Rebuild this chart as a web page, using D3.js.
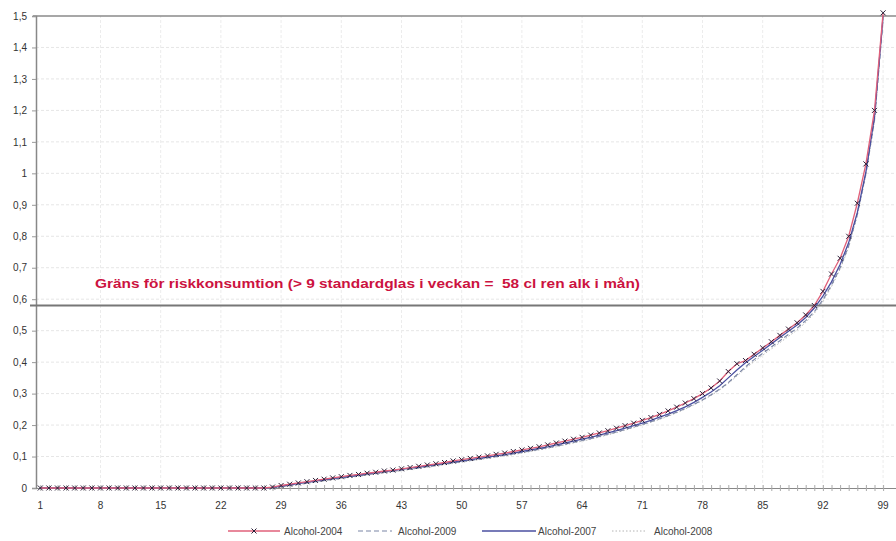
<!DOCTYPE html>
<html><head><meta charset="utf-8">
<script src="https://cdn.jsdelivr.net/npm/d3@7"></script>
<style>
html,body{margin:0;padding:0;background:#fff;}
svg{display:block;font-family:"Liberation Sans",Arial,sans-serif;}
</style></head>
<body><svg id="c" width="896" height="541"></svg>
<script>
// categories 1..99 (percentile rank)
const categories = d3.range(1, 100);
const xTickLabels = [1, 8, 15, 22, 29, 36, 43, 50, 57, 64, 71, 78, 85, 92, 99];
const yTicks = [0, 0.1, 0.2, 0.3, 0.4, 0.5, 0.6, 0.7, 0.8, 0.9, 1, 1.1, 1.2, 1.3, 1.4, 1.5];
const seriesNames = ["Alcohol-2004", "Alcohol-2009", "Alcohol-2007", "Alcohol-2008"];
const threshold = 0.58;
const thresholdLabel = "Gräns för riskkonsumtion (> 9 standardglas i veckan =  58 cl ren alk i mån)";

const zeros27 = [0,0,0,0,0,0,0,0,0,0,0,0,0,0,0,0,0,0,0,0,0,0,0,0,0,0,0];
const alc2004 = zeros27.concat([
 0.003,0.008,0.012,0.016,0.020,0.024,0.028,0.032,0.036,0.040,
 0.043,0.047,0.050,0.054,0.057,0.061,0.065,0.069,0.073,0.077,
 0.081,0.086,0.090,0.094,0.098,0.102,0.107,0.111,0.116,0.121,
 0.126,0.131,0.137,0.143,0.149,0.155,0.161,0.168,0.175,0.182,
 0.190,0.198,0.206,0.215,0.224,0.234,0.245,0.257,0.270,0.284,
 0.300,0.318,0.340,0.370,0.395,0.405,0.425,0.445,0.465,0.485,
 0.505,0.525,0.550,0.580,0.625,0.680,0.730,0.800,0.905,1.030,
 1.200,1.510]);
const alc2009 = zeros27.concat([
 0.000,0.004,0.008,0.012,0.016,0.020,0.024,0.028,0.031,0.035,
 0.039,0.042,0.046,0.050,0.053,0.057,0.060,0.064,0.068,0.072,
 0.076,0.080,0.084,0.088,0.092,0.096,0.100,0.104,0.108,0.113,
 0.118,0.123,0.128,0.133,0.139,0.145,0.151,0.157,0.164,0.171,
 0.178,0.186,0.194,0.202,0.211,0.220,0.230,0.241,0.253,0.266,
 0.280,0.296,0.314,0.335,0.360,0.385,0.408,0.428,0.448,0.468,
 0.488,0.508,0.532,0.560,0.598,0.645,0.700,0.770,0.870,1.000,
 1.170,1.490]);
const alc2007 = zeros27.concat([
 0.002,0.006,0.010,0.014,0.018,0.022,0.026,0.030,0.034,0.037,
 0.041,0.045,0.048,0.052,0.055,0.059,0.063,0.066,0.070,0.074,
 0.078,0.082,0.086,0.090,0.094,0.098,0.102,0.106,0.111,0.116,
 0.121,0.126,0.131,0.137,0.143,0.149,0.155,0.161,0.168,0.175,
 0.182,0.190,0.198,0.206,0.215,0.225,0.235,0.246,0.258,0.272,
 0.288,0.305,0.325,0.350,0.375,0.398,0.418,0.438,0.458,0.478,
 0.498,0.518,0.542,0.572,0.610,0.655,0.710,0.780,0.875,1.005,
 1.180,1.500]);
const alc2008 = zeros27.concat([
 0.000,0.003,0.007,0.011,0.015,0.019,0.023,0.026,0.030,0.034,
 0.037,0.041,0.045,0.048,0.052,0.055,0.059,0.063,0.066,0.070,
 0.074,0.078,0.082,0.086,0.090,0.094,0.098,0.102,0.106,0.111,
 0.116,0.121,0.126,0.131,0.137,0.143,0.149,0.155,0.162,0.169,
 0.176,0.184,0.192,0.200,0.209,0.218,0.228,0.239,0.251,0.264,
 0.278,0.294,0.312,0.332,0.356,0.380,0.402,0.422,0.442,0.462,
 0.482,0.502,0.526,0.555,0.592,0.640,0.695,0.765,0.865,0.995,
 1.165,1.495]);

const svg = d3.select("#c");
const x = d3.scaleLinear().domain([0.5, 100.5]).range([36, 896]);
const y = d3.scaleLinear().domain([0, 1.5]).range([488, 16]);

// gridlines
const g = svg.append("g");
g.selectAll("line.hg").data(yTicks.slice(1, -1)).join("line")
  .attr("x1", x(0.5)).attr("x2", x(100.5))
  .attr("y1", d => y(d)).attr("y2", d => y(d))
  .attr("stroke", "#e6e6e6").attr("stroke-width", 1).attr("stroke-dasharray", "3,2");
g.selectAll("line.vg").data(xTickLabels.slice(1)).join("line")
  .attr("x1", d => x(d)).attr("x2", d => x(d))
  .attr("y1", y(0)).attr("y2", y(1.5))
  .attr("stroke", "#ececec").attr("stroke-width", 1).attr("stroke-dasharray", "3,2");

// top border at 1.5
svg.append("line").attr("x1", 33).attr("x2", 896).attr("y1", y(1.5)).attr("y2", y(1.5))
  .attr("stroke", "#8a8a8a").attr("stroke-width", 1.6);

// y axis
const yAxis = d3.axisLeft(y).tickValues(yTicks).tickSize(4)
  .tickFormat(d => String(+d.toFixed(1)).replace(".", ","));
const ya = svg.append("g").attr("transform", `translate(${x(0.5)},0)`).call(yAxis);
ya.select(".domain").attr("stroke", "#888").attr("stroke-width", 1.5);
ya.selectAll(".tick line").attr("stroke", "#999");
ya.selectAll(".tick text").attr("fill", "#333").attr("font-size", 10)
  .attr("font-family", "Liberation Sans, Arial, sans-serif").attr("x", -9);

// x axis
const xAxis = d3.axisBottom(x).tickValues(categories).tickSize(0).tickFormat("");
const xa = svg.append("g").attr("transform", `translate(0,${y(0)})`).call(xAxis);
xa.select(".domain").attr("stroke", "#888").attr("stroke-width", 1.2);
xa.selectAll(".tick line").remove();
xa.selectAll(".tick").append("line").attr("y1", -3).attr("y2", 3).attr("stroke", "#aaa");
svg.append("g").selectAll("text").data(xTickLabels).join("text")
  .attr("x", d => x(d)).attr("y", 509).attr("text-anchor", "middle")
  .attr("font-size", 10).attr("fill", "#333").text(d => d);

// threshold line
svg.append("line").attr("x1", 30).attr("x2", 896).attr("y1", y(threshold)).attr("y2", y(threshold))
  .attr("stroke", "#777").attr("stroke-width", 2);
svg.append("text").attr("x", 95).attr("y", 288).attr("font-size", 13).attr("font-weight", "bold")
  .attr("fill", "#cc1240").style("white-space", "pre")
  .attr("textLength", 545).attr("lengthAdjust", "spacingAndGlyphs").text(thresholdLabel);

// series
const line = d3.line().x((d, i) => x(categories[i])).y(d => y(d));
const styles = [
  {data: alc2008, stroke: "#b4b4b4", dash: "1.5,2", w: 1},
  {data: alc2009, stroke: "#7b86a6", dash: "5,3", w: 1.2},
  {data: alc2007, stroke: "#4a4fa0", dash: null, w: 1.3},
  {data: alc2004, stroke: "#e0607a", dash: null, w: 1.3}
];
styles.forEach(s => {
  svg.append("path").datum(s.data).attr("d", line).attr("fill", "none")
    .attr("stroke", s.stroke).attr("stroke-width", s.w)
    .attr("stroke-dasharray", s.dash);
});
svg.append("g").selectAll("path").data(alc2004).join("path")
  .attr("d", (d, i) => {
    const cx = x(categories[i]), cy = y(d), r = 2.5;
    return `M${cx-r},${cy-r}L${cx+r},${cy+r}M${cx-r},${cy+r}L${cx+r},${cy-r}`;
  })
  .attr("stroke", "#2a2038").attr("stroke-width", 1).attr("fill", "none");

// legend
const leg = svg.append("g").attr("font-size", 10).attr("fill", "#444");
const legItems = [
  {name: seriesNames[0], x1: 228, x2: 280, tx: 284, stroke: "#e0607a", dash: null, w: 1.3, marker: true},
  {name: seriesNames[1], x1: 358, x2: 392, tx: 398, stroke: "#7b86a6", dash: "5,3", w: 1.2},
  {name: seriesNames[2], x1: 482, x2: 536, tx: 538, stroke: "#4a4fa0", dash: null, w: 1.3},
  {name: seriesNames[3], x1: 612, x2: 646, tx: 654, stroke: "#b4b4b4", dash: "1.5,2", w: 1}
];
const ly = 531;
legItems.forEach(it => {
  leg.append("line").attr("x1", it.x1).attr("x2", it.x2).attr("y1", ly).attr("y2", ly)
    .attr("stroke", it.stroke).attr("stroke-width", it.w).attr("stroke-dasharray", it.dash);
  if (it.marker) {
    const cx = (it.x1 + it.x2) / 2, r = 2.5;
    leg.append("path").attr("d", `M${cx-r},${ly-r}L${cx+r},${ly+r}M${cx-r},${ly+r}L${cx+r},${ly-r}`)
      .attr("stroke", "#2a2038").attr("stroke-width", 1);
  }
  leg.append("text").attr("x", it.tx).attr("y", ly + 3.5).text(it.name);
});
</script></body></html>
